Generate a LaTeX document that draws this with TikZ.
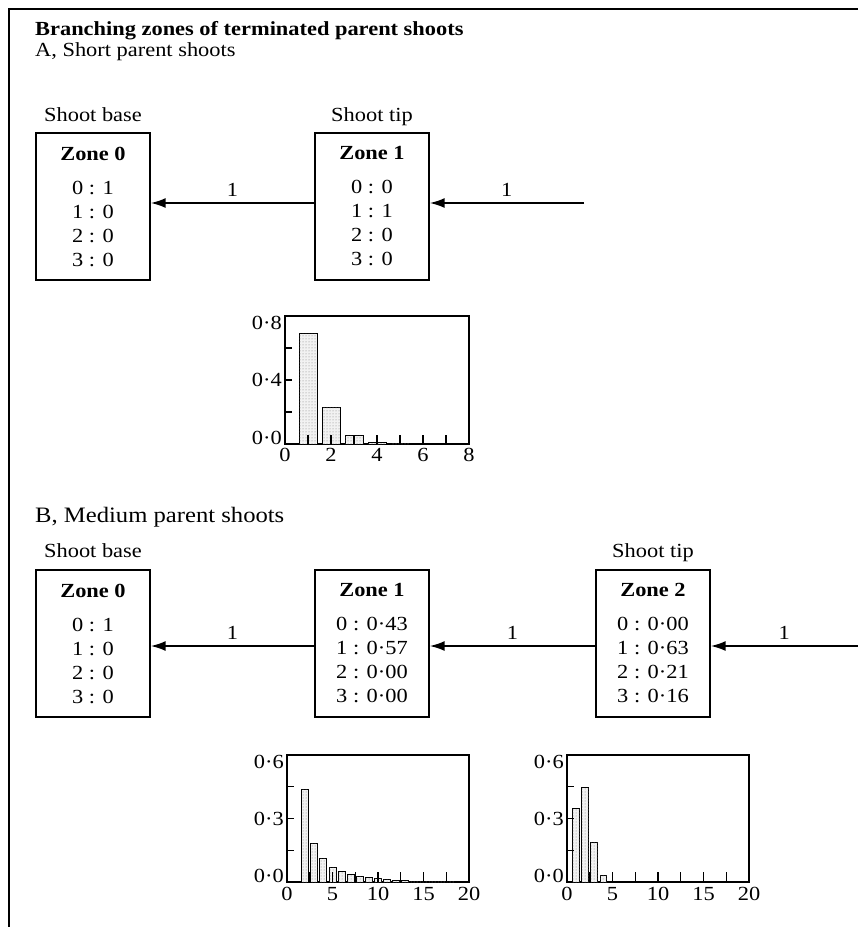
\documentclass[tikz,border=0pt]{standalone}
\usepackage{fontspec}
\setmainfont{Liberation Serif}[FakeStretch=1.12]
\usetikzlibrary{arrows.meta, positioning, patterns}

\tikzset{
  zonebox/.style={draw, line width=1.3pt, minimum width=114pt, minimum height=147pt,
                  inner sep=0pt, align=center, font=\fontsize{20}{24}\selectfont},
  flow/.style={-{Latex[length=15pt, width=10pt]}, line width=2pt},
  flowlab/.style={above=6pt, inner sep=0pt, font=\fontsize{20}{24}\selectfont},
  endlab/.style={anchor=base, inner sep=0pt, font=\fontsize{20}{24}\selectfont},
  heading/.style={anchor=base west, inner sep=0pt, font=\fontsize{20}{24}\selectfont},
  plotframe/.style={draw, line width=1.2pt},
  histbar/.style={draw, line width=0.9pt, fill=gray!10,
                  postaction={pattern=dots, pattern color=gray}},
  axtick/.style={line width=1.1pt},
  ticklab/.style={inner sep=0pt, font=\fontsize{20}{24}\selectfont}
}

\begin{document}
\begin{tikzpicture}[x=1pt, y=-1pt]
    \useasboundingbox (0,0) rectangle (858,927);

    % Frame
    \draw[line width=1.5pt] (9,927) -- (9,9) -- (858,9);

    % Headings
    \node[heading, font=\fontsize{20}{24}\selectfont\bfseries] (title) at (35,35)
        {Branching zones of terminated parent shoots};
    \node[heading] (headA) at (35,56) {A, Short parent shoots};
    \node[heading, font=\fontsize{22}{24}\selectfont] (headB) at (35,522)
        {B, Medium parent shoots};

    % A: zone boxes
    \node[zonebox] (za0) at (93,206.5)
        {\textbf{Zone 0}\\[10pt]0 : 1\\1 : 0\\2 : 0\\3 : 0};
    \node[zonebox] (za1) at (372,206.5)
        {\textbf{Zone 1}\\[10pt]0 : 0\\1 : 1\\2 : 0\\3 : 0};
    \node[endlab] (baseA) at ([yshift=11pt]za0.north) {Shoot base};
    \node[endlab] (tipA) at ([yshift=11pt]za1.north) {Shoot tip};

    % A: flows
    \coordinate (inA) at (584,203);
    \draw[flow] ([yshift=3.5pt]za1.west) -- node[flowlab] (fa1) {1} ([yshift=3.5pt]za0.east);
    \draw[flow] (inA) -- node[flowlab] (fa2) {1} (za1.east |- inA);

    % A: histogram
    \draw[plotframe] (285,316) rectangle (469,444);
    \foreach \i/\v in {1/0.69, 2/0.23, 3/0.056, 4/0.012, 5/0.005}
        \draw[histbar] ({285+23*\i-9},444) rectangle ({285+23*\i+9},{444-160*\v});
    \foreach \i in {1,...,7}
        \draw[axtick] ({285+23*\i},444) -- ++(0,-9);
    \foreach \v in {0.2,0.4,0.6}
        \draw[axtick] (285,{444-160*\v}) -- ++(7,0);
    \foreach \i in {0,2,...,8}
        \node[ticklab, anchor=north] (xa\i) at ({285+23*\i},448) {\i};
    \node[ticklab, anchor=north east] (ya8) at (282,316) {0·8};
    \node[ticklab, anchor=east] (ya4) at (282,380) {0·4};
    \node[ticklab, anchor=base east] (ya0) at (282,444) {0·0};

    % B: zone boxes
    \node[zonebox] (zb0) at (93,643.5)
        {\textbf{Zone 0}\\[10pt]0 : 1\\1 : 0\\2 : 0\\3 : 0};
    \node[zonebox] (zb1) at (372,643.5)
        {\textbf{Zone 1}\\[10pt]0 : 0·43\\1 : 0·57\\2 : 0·00\\3 : 0·00};
    \node[zonebox] (zb2) at (653,643.5)
        {\textbf{Zone 2}\\[10pt]0 : 0·00\\1 : 0·63\\2 : 0·21\\3 : 0·16};
    \node[endlab] (baseB) at ([yshift=12pt]zb0.north) {Shoot base};
    \node[endlab] (tipB) at ([yshift=12pt]zb2.north) {Shoot tip};

    % B: flows
    \coordinate (inB) at (858,646);
    \draw[flow] (zb1.west |- inB) -- node[flowlab] (fb1) {1} (zb0.east |- inB);
    \draw[flow] (zb2.west |- inB) -- node[flowlab] (fb2) {1} (zb1.east |- inB);
    \draw[flow] (inB) -- node[flowlab] (fb3) {1} (zb2.east |- inB);

    % B: histogram of zone 1
    \draw[plotframe] (287,755) rectangle (469,882);
    \foreach \i/\v in {2/0.435, 3/0.18, 4/0.11, 5/0.07, 6/0.05, 7/0.035, 8/0.027,
                       9/0.022, 10/0.018, 11/0.012, 12/0.009, 13/0.006, 14/0.005,
                       15/0.004, 16/0.003, 17/0.003, 18/0.002}
        \draw[histbar] ({287+9.1*\i-3.5},882) rectangle ({287+9.1*\i+3.5},{882-212*\v});
    \foreach \i in {2.5,5.0,...,17.5}
        \draw[axtick] ({287+9.1*\i},882) -- ++(0,-10);
    \foreach \v in {0.15,0.3,0.45}
        \draw[axtick] (287,{882-212*\v}) -- ++(7,0);
    \foreach \i in {0,5,...,20}
        \node[ticklab, anchor=north] (xb\i) at ({287+9.1*\i},887) {\i};
    \node[ticklab, anchor=north east] (yb6) at (284,755) {0·6};
    \node[ticklab, anchor=east] (yb3) at (284,818.5) {0·3};
    \node[ticklab, anchor=base east] (yb0) at (284,882) {0·0};

    % B: histogram of zone 2
    \draw[plotframe] (567,755) rectangle (749,882);
    \foreach \i/\v in {1/0.345, 2/0.445, 3/0.185, 4/0.03}
        \draw[histbar] ({567+9.1*\i-3.4},882) rectangle ({567+9.1*\i+3.4},{882-212*\v});
    \foreach \i in {2.5,5.0,...,17.5}
        \draw[axtick] ({567+9.1*\i},882) -- ++(0,-10);
    \foreach \v in {0.15,0.3,0.45}
        \draw[axtick] (567,{882-212*\v}) -- ++(7,0);
    \foreach \i in {0,5,...,20}
        \node[ticklab, anchor=north] (xc\i) at ({567+9.1*\i},887) {\i};
    \node[ticklab, anchor=north east] (yc6) at (564,755) {0·6};
    \node[ticklab, anchor=east] (yc3) at (564,818.5) {0·3};
    \node[ticklab, anchor=base east] (yc0) at (564,882) {0·0};
\end{tikzpicture}
\end{document}
